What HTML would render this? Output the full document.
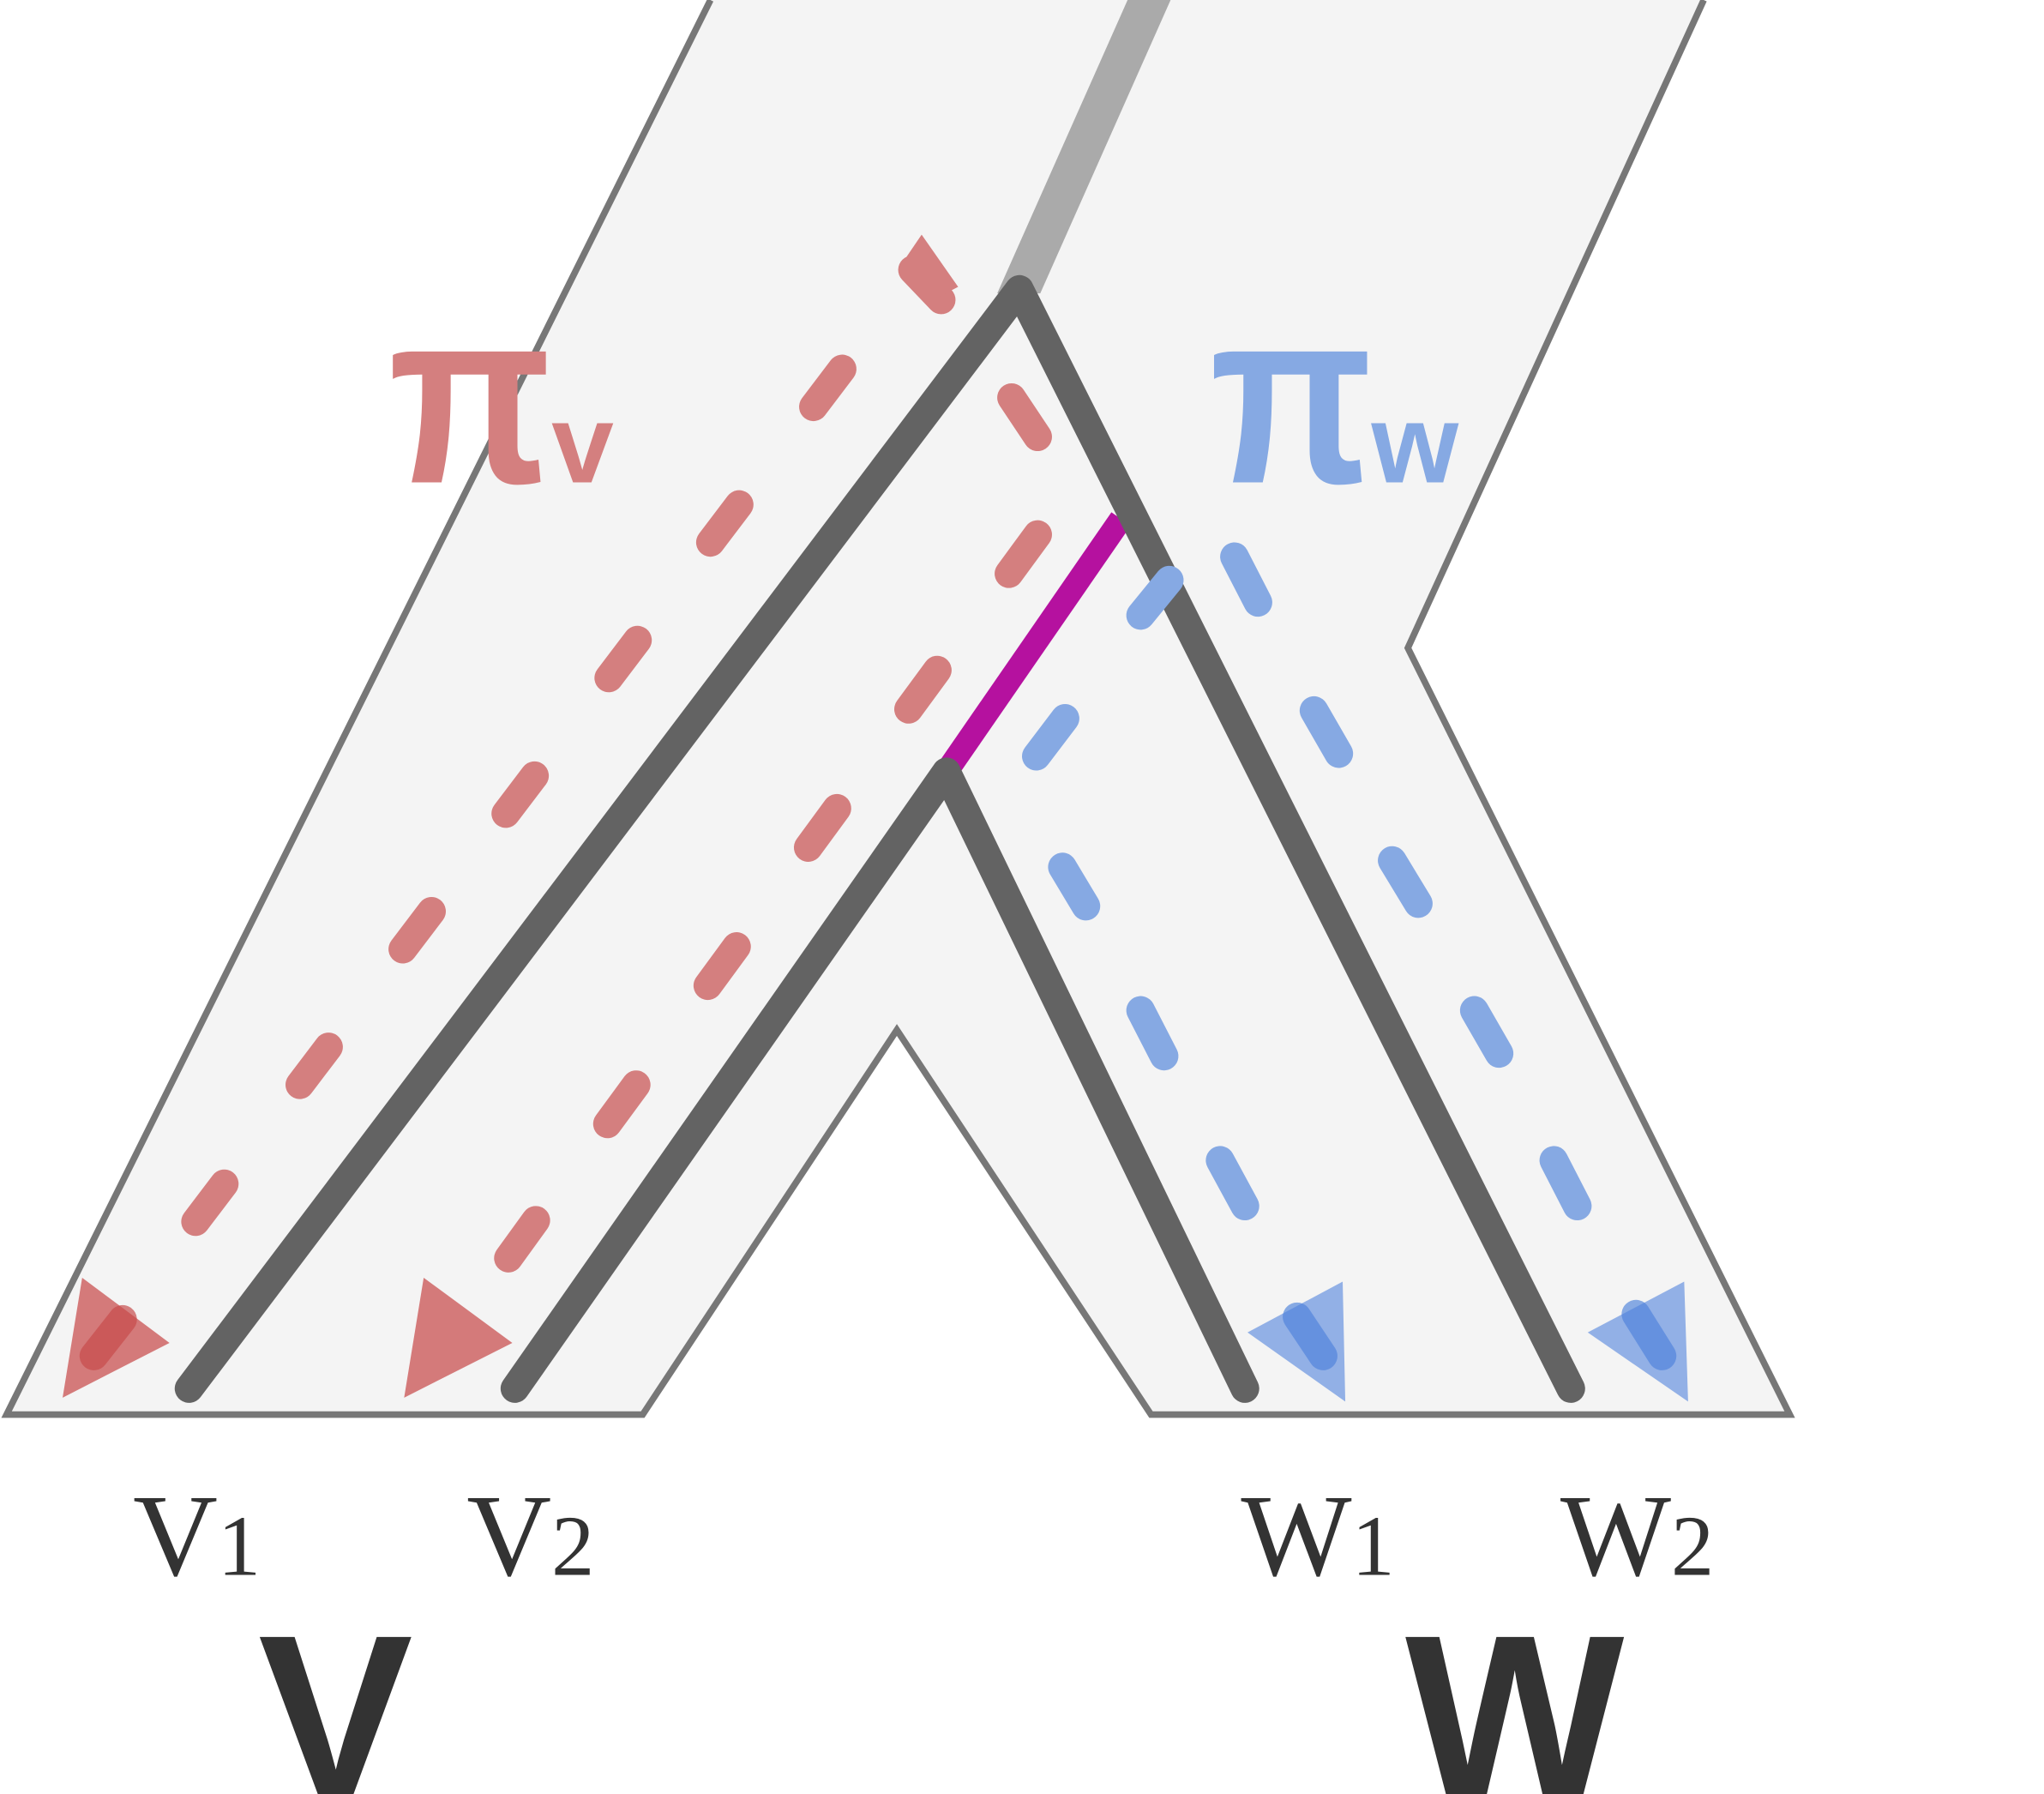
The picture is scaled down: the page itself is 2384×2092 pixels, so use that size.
<!DOCTYPE html>
<html><head><meta charset="utf-8"><style>html,body{margin:0;padding:0;background:#fff;}svg{display:block}</style></head>
<body>
<svg width="2384" height="2092" viewBox="0 0 1568 1376" xmlns="http://www.w3.org/2000/svg">
<polygon points="545,0 1307,0 1080,497 1373,1085 883,1085 688,790 493,1085 5,1085" fill="#f4f4f4"/>
<polyline points="545,0 5,1085 493,1085 688,790 883,1085 1373,1085 1080,497 1307,0" fill="none" stroke="#777" stroke-width="5"/>
<polygon points="865,0 898,0 798,225 765,225" fill="#aaa"/>
<line x1="726" y1="592" x2="860" y2="398" stroke="#b5119f" stroke-width="18"/>
<g stroke="#636363" stroke-width="22" stroke-linecap="round" stroke-linejoin="round" fill="none">
<polyline points="145,1065 782,222 1205,1065"/>
<polyline points="395,1065 726,592 955,1065"/>
</g>
<g stroke="#d47f7f" stroke-width="22" stroke-linecap="round" fill="none">
<line x1="72" y1="1040" x2="94" y2="1012"/>
<line x1="150" y1="937" x2="172" y2="908"/>
<line x1="230" y1="832" x2="252" y2="803"/>
<line x1="309" y1="728" x2="331" y2="699"/>
<line x1="388" y1="624" x2="410" y2="595"/>
<line x1="467" y1="520" x2="489" y2="491"/>
<line x1="545" y1="416" x2="567" y2="387"/>
<line x1="624" y1="312" x2="646" y2="283"/>
<line x1="390" y1="965" x2="411" y2="936"/>
<line x1="466" y1="862" x2="488" y2="832"/>
<line x1="543" y1="756" x2="565" y2="726"/>
<line x1="620" y1="650" x2="642" y2="620"/>
<line x1="697" y1="544" x2="719" y2="514"/>
<line x1="774" y1="440" x2="796" y2="410"/>
<line x1="796" y1="335" x2="776" y2="305"/>
<line x1="722" y1="230" x2="700" y2="207"/>
</g>
<polygon points="707,180 735,220 712,232 690,205" fill="#d47f7f"/>
<g stroke="#86a9e3" stroke-width="22" stroke-linecap="round" fill="none">
<line x1="875" y1="472" x2="897" y2="445"/>
<line x1="795" y1="580" x2="817" y2="551"/>
<line x1="815" y1="665" x2="833" y2="695"/>
<line x1="875" y1="775" x2="893" y2="810"/>
<line x1="936" y1="890" x2="955" y2="925"/>
<line x1="995" y1="1010" x2="1015" y2="1040"/>
<line x1="947" y1="427" x2="965" y2="462"/>
<line x1="1008" y1="545" x2="1027" y2="578"/>
<line x1="1068" y1="660" x2="1088" y2="693"/>
<line x1="1131" y1="775" x2="1150" y2="808"/>
<line x1="1192" y1="890" x2="1210" y2="925"/>
<line x1="1255" y1="1008" x2="1275" y2="1040"/>
</g>
<g fill="rgba(200,75,75,0.72)">
<polygon points="63,980 48,1072 130,1030"/>
<polygon points="325,980 310,1072 393,1030"/>
</g>
<g fill="rgba(80,130,220,0.6)">
<polygon points="1030,983 957,1022 1032,1075"/>
<polygon points="1292,983 1218,1022 1295,1075"/>
</g>
<g font-family="'Liberation Sans',sans-serif" font-weight="bold">
<text transform="translate(298,370) scale(0.86,1)" font-size="190" fill="#d47f7f">π</text>
<text x="423" y="370" font-size="86" fill="#d47f7f">v</text>
<text transform="translate(928,370) scale(0.86,1)" font-size="190" fill="#86a9e3">π</text>
<text x="1052" y="370" font-size="86" fill="#86a9e3">w</text>
<text x="198" y="1378" font-size="178" fill="#333">V</text>
<text x="1078" y="1378" font-size="178" fill="#333">W</text>
</g>
<g font-family="'Liberation Serif',serif" fill="#333">
<text x="102" y="1208" font-size="90">V<tspan font-size="66">1</tspan></text>
<text x="358" y="1208" font-size="90">V<tspan font-size="66">2</tspan></text>
<text x="952" y="1208" font-size="90">W<tspan font-size="66">1</tspan></text>
<text x="1197" y="1208" font-size="90">W<tspan font-size="66">2</tspan></text>
</g>
</svg>
</body></html>
